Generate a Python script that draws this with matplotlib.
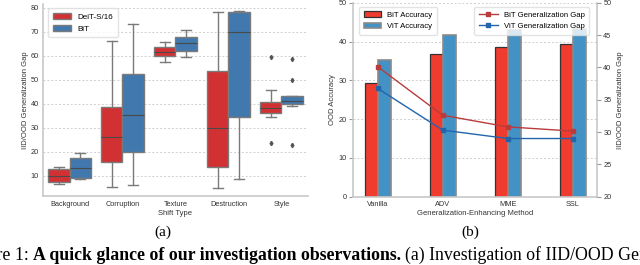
import matplotlib
matplotlib.use("Agg")
import matplotlib.pyplot as plt
from matplotlib.patches import Patch
import numpy as np

# ---- (a) box plot: IID/OOD gap per shift type ----
shift_types = ["Background", "Corruption", "Texture", "Destruction", "Style"]
box_models = ["DeiT-S/16", "BiT"]
# per model: (whislo, q1, med, q3, whishi)
deit_stats = [
    (6.5, 7.5, 10.1, 12.9, 13.9),
    (5.5, 16.0, 26.4, 38.9, 66.4),
    (57.6, 59.9, 61.8, 63.6, 66.0),
    (5.1, 13.6, 30.1, 53.7, 78.5),
    (34.5, 36.1, 38.2, 40.8, 45.7),
]
bit_stats = [
    (8.7, 9.0, 13.2, 17.6, 19.7),
    (6.2, 20.1, 35.3, 52.5, 73.2),
    (59.6, 62.2, 65.3, 68.0, 71.0),
    (8.9, 34.5, 70.0, 78.2, 78.6),
    (39.2, 40.0, 41.2, 43.5, 43.5),
]
deit_fliers = [[], [], [], [], [59.7, 23.6]]
bit_fliers = [[], [], [], [], [58.9, 50.0, 22.9]]

# ---- (b) bars + lines ----
methods = ["Vanilla", "ADV", "MME", "SSL"]
bit_acc = [29.3, 36.7, 38.5, 39.3]
vit_acc = [35.2, 41.8, 43.0, 43.2]
bit_gap = [40.1, 32.6, 30.8, 30.15]
vit_gap = [36.75, 30.3, 29.0, 29.0]

RED_BOX, BLUE_BOX = "#d23134", "#4178ad"
RED_BAR, BLUE_BAR = "#f03c2f", "#4292c6"
RED_LINE, BLUE_LINE = "#b83c3d", "#2166ac"
SPINE = "#c8c8c8"
TXT = "#333333"

plt.rcParams["font.family"] = ["Liberation Sans", "DejaVu Sans"]

fig = plt.figure(figsize=(6.4, 2.65), dpi=100)

ax = fig.add_axes([0.0672, 0.2589, 0.414, 0.7245])


def make_stats(rows, fliers):
    out = []
    for (lo, q1, med, q3, hi), fl in zip(rows, fliers):
        out.append(dict(whislo=lo, q1=q1, med=med, q3=q3, whishi=hi, fliers=fl))
    return out


x = np.arange(len(shift_types))
for stats, fl, off, col in [(deit_stats, deit_fliers, -0.2, RED_BOX),
                            (bit_stats, bit_fliers, 0.2, BLUE_BOX)]:
    ax.bxp(make_stats(stats, fl), positions=x + off, widths=0.4,
           capwidths=0.18, patch_artist=True, manage_ticks=False,
           boxprops=dict(facecolor=col, edgecolor="#7a7a7a", linewidth=1.0),
           whiskerprops=dict(color="#7a7a7a", linewidth=1.0),
           capprops=dict(color="#7a7a7a", linewidth=1.0),
           medianprops=dict(color="#4a4a4a", linewidth=0.8),
           flierprops=dict(marker="d", markersize=2.2, markerfacecolor="#555555",
                           markeredgecolor="#555555"))

ax.set_xlim(-0.5, 4.5)
ax.set_ylim(1.5, 81.5)
ax.set_xticks(x)
ax.set_xticklabels(shift_types)
ax.set_yticks([10, 20, 30, 40, 50, 60, 70, 80])
ax.tick_params(length=0, labelsize=5.3, colors=TXT, pad=3)
ax.grid(axis="y", color="#cfcfcf", linestyle=(0, (2, 2)), linewidth=0.7)
ax.set_axisbelow(True)
for s in ["top", "right"]:
    ax.spines[s].set_visible(False)
for s in ["left", "bottom"]:
    ax.spines[s].set_color(SPINE)
    ax.spines[s].set_linewidth(1.2)
ax.set_xlabel("Shift Type", fontsize=5.5, color=TXT, labelpad=1.5)
ax.set_ylabel("IID/OOD Generalization Gap", fontsize=5.5, color=TXT, labelpad=1)
ax.legend(handles=[Patch(facecolor=RED_BOX, edgecolor="#7a7a7a", label=box_models[0]),
                   Patch(facecolor=BLUE_BOX, edgecolor="#7a7a7a", label=box_models[1])],
          loc="upper left", fontsize=5.8, frameon=True, framealpha=0.8,
          edgecolor="#dddddd", borderpad=0.6, handlelength=2.2, labelspacing=0.5,
          bbox_to_anchor=(0.005, 1.0))

# ---- (b) ----
bx = fig.add_axes([0.5516, 0.2577, 0.38125, 0.732])
xm = np.arange(len(methods))
bx.bar(xm - 0.1, bit_acc, width=0.2, color=RED_BAR, edgecolor="#333333",
       linewidth=0.9, label="BiT Accuracy")
bx.bar(xm + 0.1, vit_acc, width=0.2, color=BLUE_BAR, edgecolor="#8a8a8a",
       linewidth=1.2, label="ViT Accuracy")
bx.set_xlim(-0.38, 3.374)
bx.set_ylim(0, 50)
bx.set_yticks([0, 10, 20, 30, 40, 50])
bx.set_xticks(xm)
bx.set_xticklabels(methods)
bx.grid(axis="y", color="#cfcfcf", linestyle=(0, (2, 2)), linewidth=0.7)
bx.set_axisbelow(True)
bx.tick_params(axis="x", length=0, labelsize=5.3, colors=TXT, pad=3)
bx.tick_params(axis="y", length=3, width=0.8, color="#999999", labelsize=5.3,
               labelcolor=TXT, pad=1.5)
bx.spines["top"].set_visible(False)
for s in ["left", "right", "bottom"]:
    bx.spines[s].set_color(SPINE)
    bx.spines[s].set_linewidth(1.2)
bx.set_xlabel("Generalization-Enhancing Method", fontsize=5.5, color=TXT, labelpad=1.5)
bx.set_ylabel("OOD Accuracy", fontsize=5.5, color=TXT, labelpad=2)
bx.legend(loc="upper left", fontsize=5.6, framealpha=0.8, edgecolor="#dddddd",
          borderpad=0.6, handlelength=2.2, labelspacing=0.5,
          bbox_to_anchor=(0.01, 1.0))

tx = bx.twinx()
tx.plot(xm, bit_gap, color=RED_LINE, marker="s", markersize=2.8, linewidth=1.0,
        label="BiT Generalization Gap")
tx.plot(xm, vit_gap, color=BLUE_LINE, marker="s", markersize=2.8, linewidth=1.0,
        label="ViT Generalization Gap")
tx.set_ylim(20, 50)
tx.set_yticks([20, 25, 30, 35, 40, 45, 50])
tx.tick_params(axis="y", length=3, width=0.8, color="#999999", labelsize=5.3,
               labelcolor=TXT, pad=1.5)
for s in tx.spines.values():
    s.set_visible(False)
tx.set_ylabel("IID/OOD Generalization Gap", fontsize=5.5, color=TXT, labelpad=4)
tx.legend(loc="upper right", fontsize=5.6, framealpha=0.8, edgecolor="#dddddd",
          borderpad=0.6, handlelength=2.4, labelspacing=0.5,
          bbox_to_anchor=(0.985, 1.0))

# ---- captions ----
serif = ["Liberation Serif", "DejaVu Serif"]
fig.text(163 / 640, 0.109, "(a)", fontsize=11, family=serif, ha="center", va="baseline")
fig.text(470 / 640, 0.109, "(b)", fontsize=11, family=serif, ha="center", va="baseline")

cap_size = 12.8
cap_y = 0.018
fig.canvas.draw()
r = fig.canvas.get_renderer()
bold = fig.text(33 / 640, cap_y, "A quick glance of our investigation observations.",
                fontsize=cap_size, family=serif, weight="bold", ha="left", va="baseline")
bb = bold.get_window_extent(renderer=r)
space = 0.25 * cap_size * 100 / 72
fig.text((bb.x0 - space) / 640, cap_y, "Figure 1:", fontsize=cap_size, family=serif,
         ha="right", va="baseline")
fig.text((bb.x1 + space) / 640, cap_y,
         "(a) Investigation of IID/OOD Generalization Gap", fontsize=cap_size,
         family=serif, ha="left", va="baseline")

fig.savefig("out.png", dpi=100)
